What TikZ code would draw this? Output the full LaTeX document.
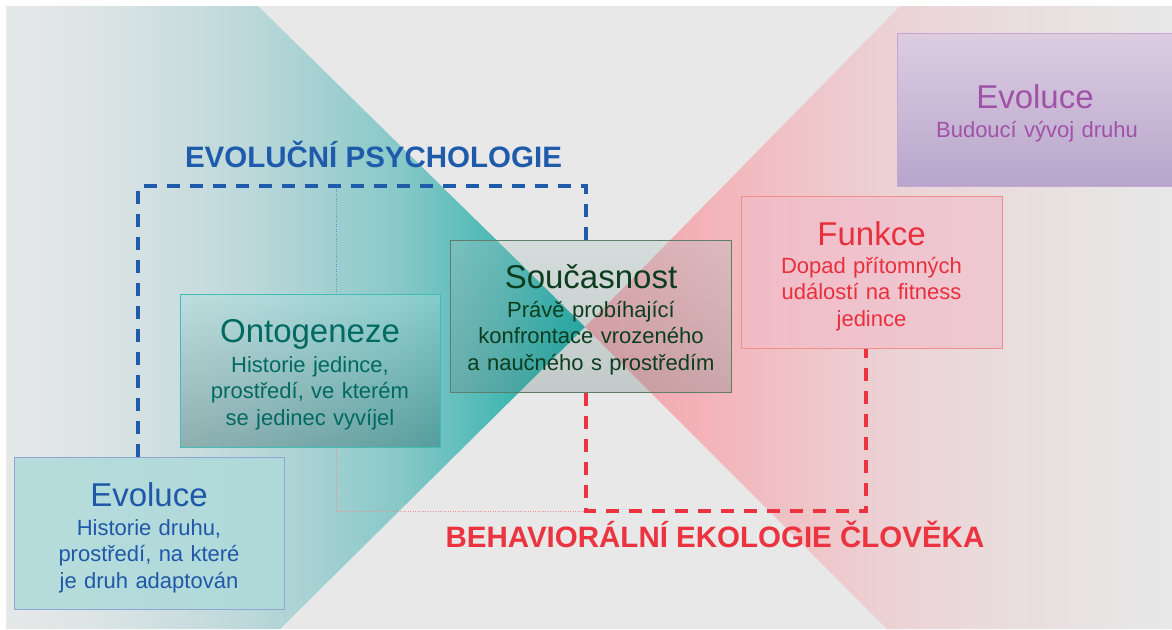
\documentclass[tikz,border=0pt]{standalone}
\usepackage{fontspec}
\setmainfont{Liberation Sans}
\usetikzlibrary{calc}
\definecolor{bgc}{HTML}{E8E8E8}
\definecolor{t0}{HTML}{E6E8E8}
\definecolor{t1}{HTML}{DCE4E5}
\definecolor{t2}{HTML}{BCD8DA}
\definecolor{t3}{HTML}{88C8C8}
\definecolor{t4}{HTML}{48B8B4}
\definecolor{t5}{HTML}{10AEA8}
\definecolor{t6}{HTML}{00AAA4}
\definecolor{r0}{HTML}{F4A0A8}
\definecolor{r1}{HTML}{F3B2B8}
\definecolor{r2}{HTML}{EFC4C8}
\definecolor{r3}{HTML}{EBD3D6}
\definecolor{r4}{HTML}{EADCDC}
\definecolor{r5}{HTML}{E8E4E4}
\definecolor{r6}{HTML}{E8E8E8}
\definecolor{evoF}{HTML}{AEDADA}
\definecolor{evoB}{HTML}{8FA6D6}
\definecolor{evoT}{HTML}{1F58A8}
\definecolor{ontoB}{HTML}{40BEB6}
\definecolor{ontoTop}{HTML}{A8E0E0}
\definecolor{ontoBot}{HTML}{1E5A5A}
\definecolor{ontoT}{HTML}{006A62}
\definecolor{socTop}{HTML}{A8C2C2}
\definecolor{socBot}{HTML}{6E8484}
\definecolor{socB}{HTML}{5E7E6C}
\definecolor{socT}{HTML}{0B3D1E}
\definecolor{funF}{HTML}{F2BCCB}
\definecolor{funB}{HTML}{F29088}
\definecolor{funT}{HTML}{E8303C}
\definecolor{purTop}{HTML}{DDCDE1}
\definecolor{purBot}{HTML}{B8A5CC}
\definecolor{purB}{HTML}{C9A3D3}
\definecolor{purT}{HTML}{A052A8}
\definecolor{hBlue}{HTML}{1F5BAB}
\definecolor{hRed}{HTML}{EC3340}
\definecolor{dotBlue}{HTML}{6A8AC8}
\definecolor{dotRed}{HTML}{F09090}
\pgfdeclarehorizontalshading{tealgrad}{100bp}{color(0bp)=(t0); color(25bp)=(t0); color(33.1bp)=(t1); color(46.1bp)=(t2); color(59bp)=(t3); color(67.7bp)=(t4); color(72.8bp)=(t5); color(75bp)=(t6); color(100bp)=(t6)}
\pgfdeclarehorizontalshading{redgrad}{100bp}{color(0bp)=(r0); color(25bp)=(r0); color(34.8bp)=(r1); color(43.3bp)=(r2); color(51.8bp)=(r3); color(60.4bp)=(r4); color(68.9bp)=(r5); color(75bp)=(r6); color(100bp)=(r6)}
\begin{document}
\begin{tikzpicture}[x=1pt,y=-1pt,
  abox/.style={rectangle, inner sep=0pt, line width=1pt},
  ttl/.style={anchor=base, inner sep=0pt, font=\fontsize{33}{38}\selectfont},
  bdy/.style={anchor=base, inner sep=0pt, align=center, font=\fontsize{22}{26.5}\selectfont},
  hdl/.style={anchor=base, inner sep=0pt, font=\bfseries\fontsize{29.5}{34}\selectfont},
  bluedash/.style={draw=hBlue, line width=3.4pt, dash pattern=on 13pt off 10pt},
  reddash/.style={draw=hRed, line width=3.4pt, dash pattern=on 13pt off 10pt},
  bluedot/.style={draw=dotBlue, line width=0.8pt, dash pattern=on 1pt off 1.5pt},
  reddot/.style={draw=dotRed, line width=0.8pt, dash pattern=on 1pt off 1.5pt}]
\useasboundingbox (0,0) rectangle (1172,629);
\fill[white] (0,0) rectangle (1172,629);
\fill[bgc] (6,6) rectangle (1172,629);
\shade[shading=tealgrad] (6,6) -- (258,6) -- (585,327) -- (280,629) -- (6,629) -- cycle;
\shade[shading=redgrad] (900,6) -- (1172,6) -- (1172,629) -- (887,629) -- (585,327) -- cycle;

% boxes
\node[abox, draw=evoB, fill=evoF, fill opacity=0.85, minimum width=270pt, minimum height=152pt] (evo) at (149,533) {};
\node[abox, draw=ontoB, top color=ontoTop, bottom color=ontoBot, fill opacity=0.35, minimum width=260pt, minimum height=153pt] (onto) at (310,370.5) {};
\node[abox, draw=socB, top color=socTop, bottom color=socBot, fill opacity=0.3, minimum width=281pt, minimum height=152pt] (soc) at (590.5,316) {};
\node[abox, draw=funB, fill=funF, fill opacity=0.6, minimum width=261pt, minimum height=152pt] (fun) at (871.5,272) {};
\node[abox, draw=purB, top color=purTop, bottom color=purBot, minimum width=280pt, minimum height=153pt] (pur) at (1037,109.5) {};

% texts
\node[ttl, text=evoT] (evoTitle) at (149,506) {Evoluce};
\node[bdy, text=evoT, text width=270pt] (evoBody) at (149,535) {Historie druhu,\\prostředí, na které\\je druh adaptován};
\node[ttl, text=ontoT] (ontoTitle) at (310,342) {Ontogeneze};
\node[bdy, text=ontoT, text width=260pt] (ontoBody) at (310,372) {Historie jedince,\\prostředí, ve kterém\\se jedinec vyvíjel};
\node[ttl, text=socT] (socTitle) at (591,288) {Současnost};
\node[bdy, text=socT, text width=281pt] (socBody) at (591,317) {Právě probíhající\\konfrontace vrozeného\\a naučného s prostředím};
\node[ttl, text=funT] (funTitle) at (871.5,245) {Funkce};
\node[bdy, text=funT, text width=261pt] (funBody) at (871.5,273) {Dopad přítomných\\událostí na fitness\\jedince};
\node[ttl, text=purT] (purTitle) at (1035,108) {Evoluce};
\node[bdy, text=purT, text width=280pt] (purBody) at (1037,137) {Budoucí vývoj druhu};

\node[hdl, text=hBlue] (hEP) at (373.5,167) {EVOLUČNÍ PSYCHOLOGIE};
\node[hdl, text=hRed] (hBE) at (715,547) {BEHAVIORÁLNÍ EKOLOGIE ČLOVĚKA};

% connectors
\coordinate (bTL) at (138,186);
\coordinate (bTR) at (586,186);
\coordinate (rBL) at (586,511);
\coordinate (rBR) at (866,511);
\coordinate (dT) at (336,186);
\coordinate (dB) at (336,511);
\draw[bluedot] (dT) -- (onto.north -| dT);
\draw[reddot] (onto.south -| dB) -- (dB) -- (rBL);
\draw[bluedash] (evo.north -| bTL) -- (bTL) -- (bTR) -- (soc.north -| bTR);
\draw[reddash] (soc.south -| rBL) -- (rBL) -- (rBR) -- (fun.south -| rBR);
\end{tikzpicture}
\end{document}
